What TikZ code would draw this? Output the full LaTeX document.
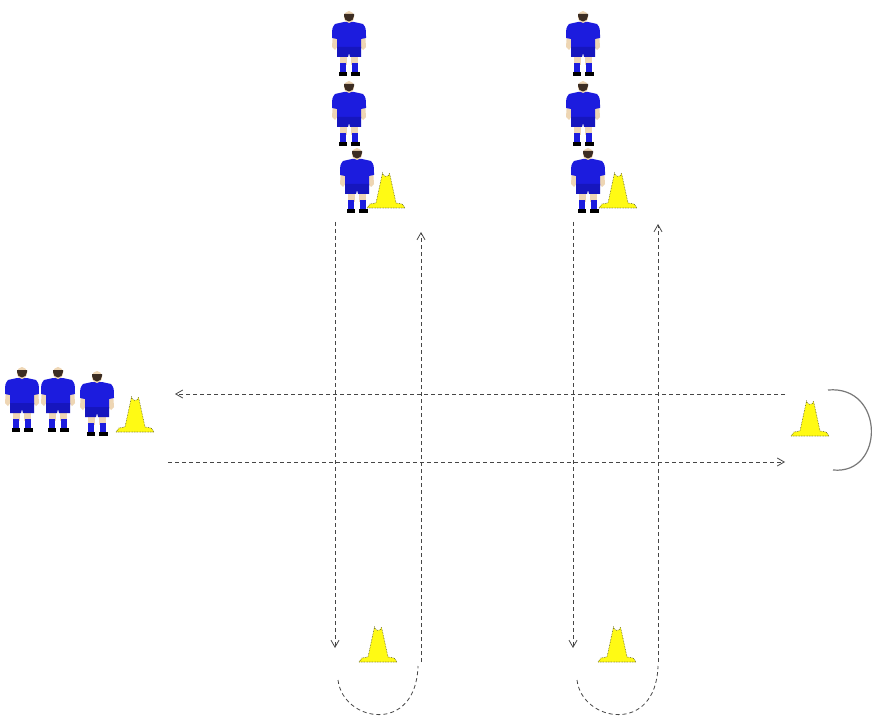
\documentclass[tikz,border=0pt]{standalone}
\usetikzlibrary{arrows.meta}
\definecolor{shirt}{RGB}{28,28,222}
\definecolor{shorts}{RGB}{22,22,190}
\definecolor{skin}{RGB}{238,214,180}
\definecolor{hair}{RGB}{60,45,35}
\definecolor{conefill}{RGB}{255,250,20}
\definecolor{coneedge}{RGB}{90,90,30}
\definecolor{runline}{RGB}{70,70,70}
\definecolor{turnline}{RGB}{120,120,120}
\tikzset{
  % footballer standing, origin at top of the head
  player/.pic={
    % thighs
    \fill[skin] (-9,44) rectangle (-2,55);
    \fill[skin] (2,44) rectangle (9,55);
    % socks
    \fill[shirt] (-9,53) rectangle (-3,63);
    \fill[shirt] (3,53) rectangle (9,63);
    % boots
    \fill[black] (-10,62) rectangle (-2,66);
    \fill[black] (2,62) rectangle (11,66);
    % arms
    \fill[skin] (-16,22) -- (-12,22) -- (-11,36) -- (-14,40) -- (-17,37) -- cycle;
    \fill[skin] (12,22) -- (16,22) -- (17,37) -- (14,40) -- (11,36) -- cycle;
    % shirt with short sleeves
    \fill[shirt] (-14,14) -- (-5,12) -- (5,12) -- (14,14) .. controls (17,18) .. (17,28) -- (12,29)
                 -- (12,39) -- (-12,39) -- (-12,29) -- (-17,28) .. controls (-17,18) .. (-14,14) -- cycle;
    % shorts
    \fill[shorts] (-12,37) -- (12,37) -- (12,47) -- (1,47) -- (0,43) -- (-1,47) -- (-12,47) -- cycle;
    % head and hair
    \fill[skin] (0,7) ellipse (5 and 6);
    \fill[hair] (-5,6) arc[start angle=180,end angle=0,x radius=5,y radius=5.5] -- (5,4) -- (-5,4) -- cycle;
  },
  % training cone, origin at the middle of its base
  cone/.pic={
    \draw[fill=conefill,draw=coneedge,densely dotted,line width=0.6pt]
      (-19,0) -- (-16,-4) -- (-10,-5) -- (-3.5,-35) arc[start angle=180,end angle=0,radius=3.5]
      -- (10,-5) -- (16,-4) -- (19,0) -- cycle;
  },
  run/.style={draw=runline,line width=0.8pt,dash pattern=on 4pt off 3pt,
    -{Straight Barb[length=7pt,width=8pt]}},
  turn/.style={draw=runline,line width=0.8pt,dash pattern=on 4pt off 3pt},
  turnsolid/.style={draw=turnline,line width=1.2pt}
}
\begin{document}
\begin{tikzpicture}[x=1pt,y=-1pt]
\useasboundingbox[fill=white] (0,0) rectangle (873,722);

% ---- players and cones ----
% top left queue
\pic (ta1) at (349,10) {player};
\pic (ta2) at (349,80) {player};
\pic (ta3) at (357,147) {player};
\pic (tac) at (386,208) {cone};
% top right queue
\pic (tb1) at (583,10) {player};
\pic (tb2) at (583,80) {player};
\pic (tb3) at (588,147) {player};
\pic (tbc) at (618,208) {cone};
% left queue
\pic (l1) at (22,366) {player};
\pic (l2) at (58,366) {player};
\pic (l3) at (97,370) {player};
\pic (lc) at (135,432) {cone};
% far right cone
\pic (rc) at (810,436) {cone};
% bottom cones
\pic (bc1) at (378,662) {cone};
\pic (bc2) at (617,662) {cone};

% ---- run end points ----
\coordinate (a1top) at (335,222);
\coordinate (a1bot) at (335,648);
\coordinate (a2bot) at (421,662);
\coordinate (a2top) at (421,232);
\coordinate (b1top) at (573,222);
\coordinate (b1bot) at (573,648);
\coordinate (b2bot) at (658,662);
\coordinate (b2top) at (658,224);
\coordinate (h1r) at (785,394);
\coordinate (h1l) at (175,394);
\coordinate (h2l) at (168,462);
\coordinate (h2r) at (785,462);

% turn-around points
\coordinate (ua1) at (338,680);
\coordinate (ua2) at (418,666);
\coordinate (ub1) at (577,680);
\coordinate (ub2) at (658,666);
\coordinate (ur1) at (828,390);
\coordinate (ur2) at (833,470);

% ---- runs ----
\draw[run] (a1top) -- (a1bot);
\draw[run] (a2bot) -- (a2top);
\draw[run] (b1top) -- (b1bot);
\draw[run] (b2bot) -- (b2top);
\draw[run] (h1r) -- (h1l);
\draw[run] (h2l) -- (h2r);

% ---- turns round the cones ----
\draw[turn] (ua1) .. controls (343,722) and (416,735) .. (ua2);
\draw[turn] (ub1) .. controls (582,722) and (656,735) .. (ub2);
\draw[turnsolid] (ur1) .. controls (885,385) and (885,475) .. (ur2);
\end{tikzpicture}
\end{document}
